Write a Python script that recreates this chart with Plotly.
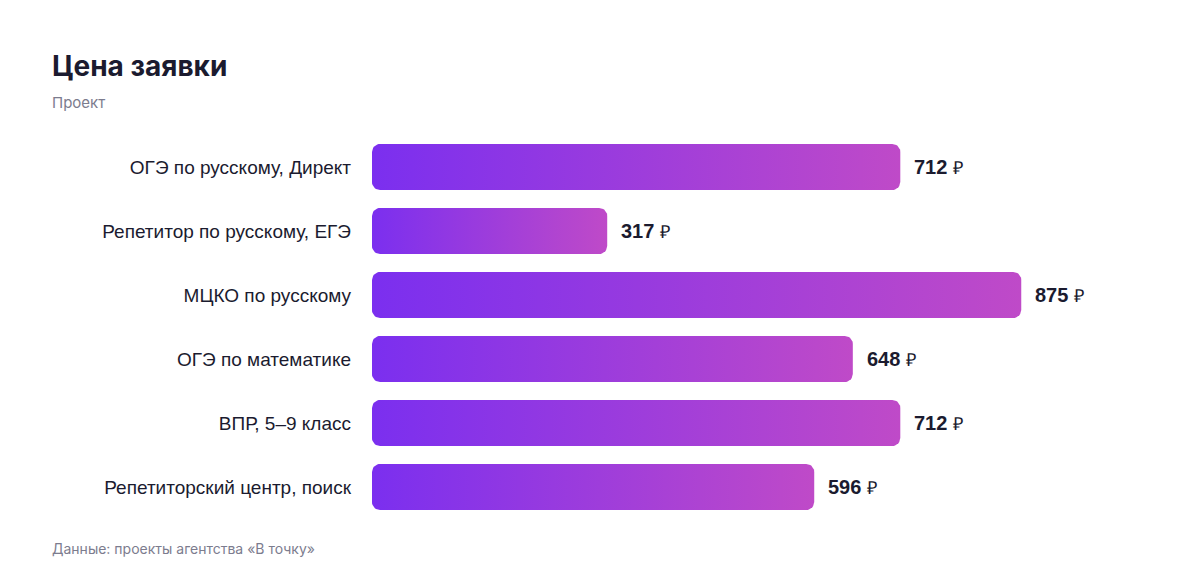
import numpy as np
import plotly.graph_objects as go

categories = [
    "ОГЭ по русскому, Директ",
    "Репетитор по русскому, ЕГЭ",
    "МЦКО по русскому",
    "ОГЭ по математике",
    "ВПР, 5–9 класс",
    "Репетиторский центр, поиск",
]
values = [712, 317, 875, 648, 712, 596]
value_labels = ["712", "317", "875", "648", "712", "596"]

OFF = 8  # page body margin
W, H = 1200, 584
ML, MR, MT, MB = 372 - OFF, 86 + OFF, 135 - OFF, 65 + OFF
PW, PH = W - ML - MR, H - MT - MB
XMAX = 1000
n = len(categories)
BAR_HALF = 0.36
R_PX = 8

c0, c1 = "#7B2FEF", "#BF4AC8"

fig = go.Figure()
ux = XMAX / PW
uy = n / PH
rx, ry = R_PX * ux, R_PX * uy

def rounded_rect(x0, x1, yc, hh):
    y0, y1 = yc - hh, yc + hh
    xs, ys = [], []
    t = np.linspace(0, np.pi / 2, 10)
    corners = [
        (x1 - rx, y0 + ry, -np.pi / 2),
        (x1 - rx, y1 - ry, 0.0),
        (x0 + rx, y1 - ry, np.pi / 2),
        (x0 + rx, y0 + ry, np.pi),
    ]
    for cx, cy, a0 in corners:
        a = a0 + t
        xs += list(cx + rx * np.cos(a))
        ys += list(cy + ry * np.sin(a))
    xs.append(xs[0]); ys.append(ys[0])
    return xs, ys

for i, v in enumerate(values):
    xs, ys = rounded_rect(0, v, i, BAR_HALF)
    fig.add_trace(go.Scatter(
        x=xs, y=ys, mode="lines", fill="toself",
        line=dict(width=0, color="rgba(0,0,0,0)"),
        fillgradient=dict(type="horizontal",
                          colorscale=[[0, c0], [1, c1]]),
        hoverinfo="skip", showlegend=False,
    ))
    fig.add_annotation(
        x=v, y=i, xref="x", yref="y", xanchor="left", yanchor="middle",
        xshift=12, showarrow=False,
        text=f"<b>{value_labels[i]}</b> <span style='font-size:18px'>₽</span>",
        font=dict(family="Liberation Sans, Arial, sans-serif", size=20, color="#1b1b2f"),
    )

def px_x(p):
    return (p - OFF - ML) / PW

def px_y(p):
    return 1 - (p - OFF - MT) / PH

fig.add_annotation(x=px_x(50), y=px_y(66), xref="paper", yref="paper",
                   xanchor="left", yanchor="middle", showarrow=False,
                   text="<b>Цена заявки</b>",
                   font=dict(family="Inter, sans-serif", size=28, color="#1b1b2f"))
fig.add_annotation(x=px_x(50), y=px_y(102), xref="paper", yref="paper",
                   xanchor="left", yanchor="middle", showarrow=False,
                   text="Проект",
                   font=dict(family="Inter, sans-serif", size=15, color="#7c7c8e"))
fig.add_annotation(x=px_x(50), y=px_y(548), xref="paper", yref="paper",
                   xanchor="left", yanchor="middle", showarrow=False,
                   text="Данные: проекты агентства «В точку»",
                   font=dict(family="Inter, sans-serif", size=14, color="#7c7c8e"))

fig.update_layout(
    width=W, height=H,
    margin=dict(l=ML, r=MR, t=MT, b=MB),
    paper_bgcolor="white", plot_bgcolor="white",
    xaxis=dict(range=[0, XMAX], visible=False, fixedrange=True),
    yaxis=dict(range=[n - 0.5, -0.5], tickmode="array",
               tickvals=list(range(n)), ticktext=categories,
               showgrid=False, zeroline=False, showline=False,
               ticks="", ticklabelstandoff=20,
               tickfont=dict(family="Liberation Sans, Arial, sans-serif", size=19, color="#1b1b2f")),
    showlegend=False,
)

fig.write_html("out.html")
